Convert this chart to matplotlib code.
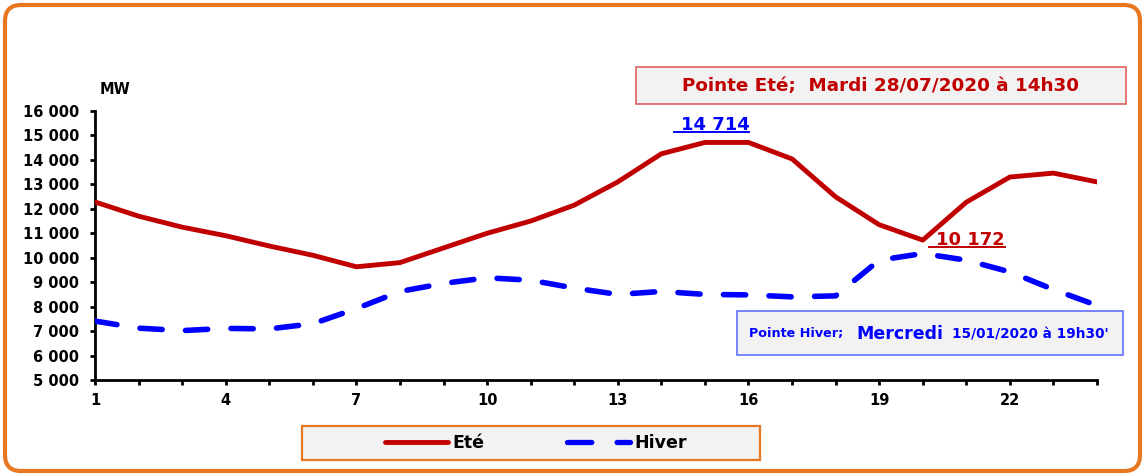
#!/usr/bin/env python3
# -*- coding: utf-8 -*-
# courbes de charge journalières: pointe été / pointe hiver

import matplotlib
matplotlib.use('Agg')
from matplotlib import pyplot as plt
from matplotlib.patches import FancyBboxPatch
from matplotlib.lines import Line2D
from matplotlib.ticker import FuncFormatter, MultipleLocator

# data
heures = list(range(1, 25))
ete = [12280, 11700, 11250, 10900, 10480, 10100, 9630, 9800, 10400, 11000,
       11500, 12150, 13100, 14250, 14714, 14714, 14040, 12490, 11350, 10720,
       12270, 13300, 13460, 13100]
hiver = [7410, 7120, 7020, 7110, 7090, 7300, 7920, 8620, 8950, 9180,
         9080, 8760, 8500, 8620, 8500, 8480, 8400, 8440, 9900, 10172,
         9900, 9420, 8700, 8050]
xticks = [1, 4, 7, 10, 13, 16, 19, 22]
label_ete = 'Eté'
label_hiver = 'Hiver'
titre_ete = 'Pointe Eté;  Mardi 28/07/2020 à 14h30'
pic_ete = '14 714'
pic_hiver = '10 172'

ROUGE = '#C00000'
BLEU = '#0000FF'
ORANGE = '#E87722'
GRIS = '#F2F2F2'

plt.rcParams['font.family'] = ['DejaVu Sans']
plt.rcParams['font.weight'] = 'bold'

W, H = 1145, 476
fig = plt.figure(figsize=(W / 100, H / 100), dpi=100)


def box(x0, y0, x1, y1, ec, fc=GRIS, lw=1.2, z=1, style='square,pad=0'):
    # rectangle given in pixel coords (top-left origin), drawn in inches
    p = FancyBboxPatch((x0 / 100, (H - y1) / 100), (x1 - x0) / 100,
                       (y1 - y0) / 100, boxstyle=style,
                       transform=fig.dpi_scale_trans,
                       facecolor=fc, edgecolor=ec, linewidth=lw, zorder=z)
    fig.patches.append(p)
    return p


# orange frame around the whole figure
box(5, 5, 1140, 471, ORANGE, fc='white', lw=3.0, z=-10,
    style='round,pad=0,rounding_size=0.16')

ax = fig.add_axes([95 / W, 1 - 380 / H, 1002 / W, 269 / H])
ax.patch.set_alpha(0)

ax.plot(heures, ete, color=ROUGE, lw=3.5, label=label_ete,
        solid_joinstyle='round', zorder=3)
ax.plot(heures, hiver, color=BLEU, lw=4, dashes=(4.0, 4.2),
        dash_capstyle='round', label=label_hiver, zorder=3)

ax.set_xlim(1, 24)
ax.set_ylim(5000, 16000)
ax.set_xticks(xticks)
ax.xaxis.set_minor_locator(MultipleLocator(1))
ax.yaxis.set_major_locator(MultipleLocator(1000))
ax.yaxis.set_major_formatter(
    FuncFormatter(lambda v, p: '{:,.0f}'.format(v).replace(',', ' ')))
for s in ['top', 'right']:
    ax.spines[s].set_visible(False)
for s in ['left', 'bottom']:
    ax.spines[s].set_linewidth(2)
ax.tick_params(which='both', direction='out', length=3.5, width=2,
               labelsize=10.5)
ax.tick_params(axis='y', pad=8)
ax.tick_params(axis='x', which='both', pad=6)
for t in ax.get_xticklabels() + ax.get_yticklabels():
    t.set_fontweight('bold')

fig.text(100 / W, 1 - 90 / H, 'MW', fontsize=10.5, fontweight='bold',
         va='center', ha='left')

# peak annotations (underlined)
t1 = ax.annotate(pic_ete, xy=(15.23, 14714), xytext=(0, 6),
                 textcoords='offset points', ha='center', va='bottom',
                 color=BLEU, fontsize=13, fontweight='bold')
t2 = ax.annotate(pic_hiver, xy=(21.1, 10172), xytext=(0, 3),
                 textcoords='offset points', ha='center', va='bottom',
                 color=ROUGE, fontsize=13, fontweight='bold')

# title boxes
box(636, 67, 1126, 104, '#E06060', z=4)
fig.text(881 / W, 1 - 86 / H, titre_ete, color=ROUGE, fontsize=13.2,
         fontweight='bold', ha='center', va='center', zorder=5)

box(737, 311, 1123, 355, '#6070FF', z=4)
yh = 1 - 334 / H
fig.text(749 / W, yh, 'Pointe Hiver;', color=BLEU, fontsize=9.2,
         fontweight='bold', va='center', ha='left', zorder=5)
fig.text(856 / W, yh, 'Mercredi', color=BLEU, fontsize=12.5,
         fontweight='bold', va='center', ha='left', zorder=5)
fig.text(952 / W, yh, "15/01/2020 à 19h30'", color=BLEU, fontsize=9.8,
         fontweight='bold', va='center', ha='left', zorder=5)

# legend
box(302, 426, 760, 460, ORANGE, lw=1.6, z=4)
h_ete = Line2D([], [], color=ROUGE, lw=3.5, solid_capstyle='round')
h_hiv = Line2D([], [], color=BLEU, lw=3.8, dashes=(4.6, 4.8),
               dash_capstyle='round')
leg = fig.legend([h_ete, h_hiv], [label_ete, label_hiver], ncol=2,
                 loc='center', bbox_to_anchor=(536 / W, 1 - 443 / H),
                 frameon=False, handlelength=3.6, handletextpad=0.25,
                 columnspacing=4.8, prop={'weight': 'bold', 'size': 12.5})
leg.set_zorder(6)

# underline the peak values
fig.canvas.draw()
inv = fig.transFigure.inverted()
for t, c in [(t1, BLEU), (t2, ROUGE)]:
    bb = t.get_window_extent().transformed(inv)
    fig.add_artist(Line2D([bb.x0 - 0.006, bb.x1], [bb.y0 + 0.005] * 2,
                          color=c, lw=1.4, transform=fig.transFigure))

fig.savefig('out.png', dpi=100)
